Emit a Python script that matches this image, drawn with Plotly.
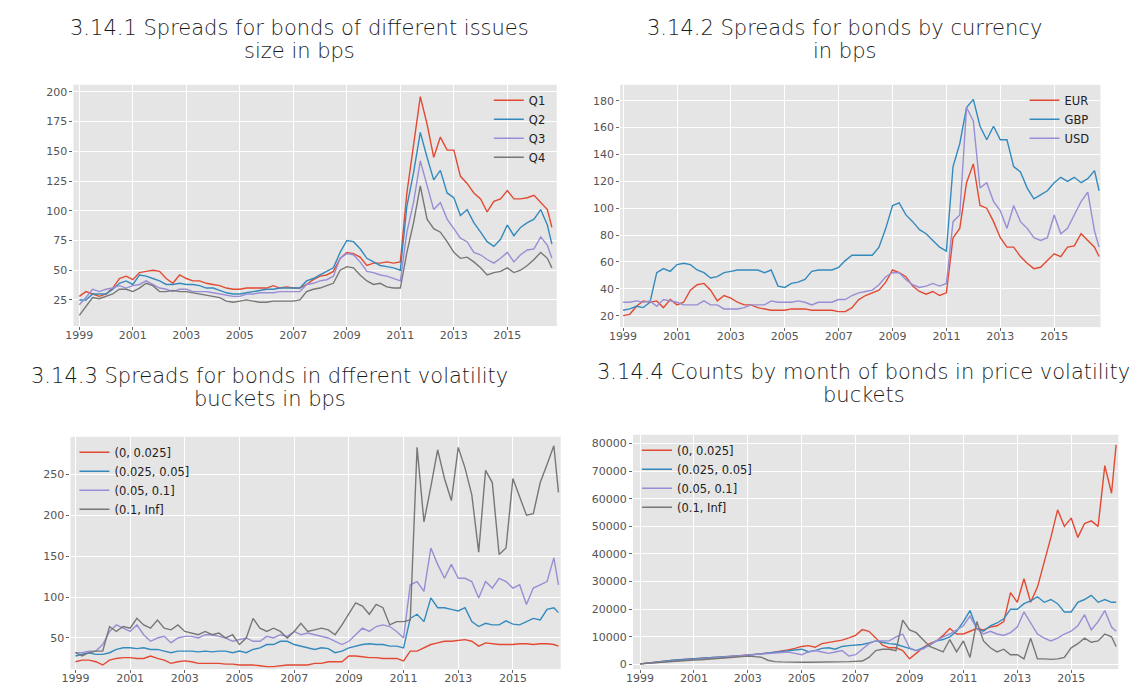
import pandas as pd
import plotly.graph_objects as go

W, H = 1142, 690

# quarterly sampling dates, plus final month
dates = list(pd.date_range("1999-01-01", periods=71, freq="QS").strftime("%Y-%m-%d")) + ["2016-09-01"]

# ---- 3.14.1 issue size quartiles (bps)
q1 = [28, 32, 30, 28, 30, 35, 43, 45, 42, 48, 49, 50, 49, 43, 39, 46, 43, 41, 41, 39,
      38, 37, 35, 34, 34, 35, 35, 35, 35, 37, 35, 36, 35, 35, 38, 42, 45, 46, 49, 60,
      65, 64, 61, 54, 56, 56, 57, 56, 57, 115, 154, 196, 173, 145, 162, 151, 151, 129, 123, 115,
      110, 99, 108, 110, 117, 110, 110, 111, 113, 107, 101, 86]
q2 = [25, 25, 30, 30, 30, 34, 39, 41, 38, 46, 45, 43, 41, 38, 38, 39, 38, 38, 37, 35,
      35, 33, 31, 30, 30, 31, 32, 33, 34, 34, 35, 35, 35, 35, 41, 43, 46, 49, 52, 65,
      75, 74, 68, 60, 57, 54, 53, 52, 50, 104, 132, 166, 145, 126, 134, 115, 111, 96, 101, 90,
      82, 74, 70, 76, 88, 79, 86, 90, 93, 101, 88, 72]
q3 = [21, 27, 34, 32, 34, 35, 37, 35, 37, 38, 41, 38, 35, 34, 32, 34, 34, 32, 32, 32,
      31, 30, 29, 28, 28, 30, 30, 31, 31, 31, 32, 32, 32, 32, 38, 39, 41, 42, 45, 60,
      64, 63, 57, 49, 48, 46, 45, 43, 41, 82, 107, 142, 121, 101, 107, 93, 85, 77, 74, 65,
      63, 59, 56, 60, 65, 57, 63, 67, 68, 78, 71, 60]
q4 = [12, 20, 27, 26, 28, 30, 34, 34, 32, 35, 39, 37, 32, 32, 33, 32, 32, 31, 30, 29,
      28, 27, 24, 23, 24, 25, 24, 23, 23, 24, 24, 24, 24, 25, 32, 34, 35, 37, 39, 50,
      53, 52, 46, 41, 38, 39, 36, 35, 35, 65, 90, 121, 93, 85, 82, 74, 65, 60, 61, 57,
      52, 46, 48, 49, 52, 48, 50, 54, 59, 65, 60, 52]

# ---- 3.14.2 by currency (bps)
eur = [20, 21, 27, 31, 30, 31, 26, 32, 28, 30, 39, 43, 44, 39, 31, 35, 33, 30, 28, 28,
       26, 25, 24, 24, 24, 25, 25, 25, 24, 24, 24, 24, 23, 23, 26, 32, 35, 37, 39, 45,
       54, 52, 49, 42, 38, 36, 38, 35, 37, 78, 85, 119, 133, 102, 100, 90, 78, 71, 71, 64,
       59, 55, 56, 61, 66, 64, 71, 72, 81, 76, 71, 64]
gbp = [24, 25, 27, 26, 30, 52, 55, 53, 58, 59, 58, 54, 52, 48, 49, 52, 53, 54, 54, 54,
       54, 52, 54, 42, 41, 44, 45, 47, 53, 54, 54, 54, 56, 61, 65, 65, 65, 65, 71, 85,
       102, 104, 95, 90, 84, 81, 76, 71, 68, 131, 148, 175, 181, 161, 151, 161, 151, 151, 131, 127,
       115, 107, 110, 113, 119, 123, 120, 123, 119, 122, 128, 113]
usd = [30, 30, 31, 30, 31, 27, 32, 31, 30, 28, 28, 28, 31, 28, 28, 25, 25, 25, 26, 28,
       28, 28, 31, 30, 30, 30, 31, 30, 28, 30, 30, 30, 32, 32, 35, 37, 38, 39, 43, 49,
       52, 52, 47, 43, 41, 42, 44, 42, 44, 90, 95, 175, 165, 115, 119, 105, 98, 85, 102, 90,
       85, 78, 76, 78, 95, 81, 85, 95, 105, 112, 83, 71]

# ---- 3.14.3 by volatility bucket (bps)
v1 = [21, 23, 23, 21, 17, 23, 25, 26, 26, 25, 25, 28, 25, 23, 19, 21, 22, 21, 19, 19,
      19, 19, 18, 18, 17, 17, 17, 16, 15, 15, 16, 17, 17, 17, 17, 19, 19, 21, 21, 21,
      28, 28, 27, 26, 26, 25, 25, 25, 22, 34, 34, 38, 42, 44, 46, 46, 47, 48, 46, 40,
      44, 43, 42, 42, 42, 43, 43, 42, 43, 43, 42, 40]
v2 = [28, 30, 32, 30, 30, 32, 36, 38, 38, 37, 38, 36, 36, 34, 32, 34, 34, 34, 33, 34,
      33, 34, 34, 32, 34, 32, 36, 38, 42, 42, 46, 46, 42, 40, 38, 36, 38, 37, 32, 34,
      38, 40, 42, 43, 42, 42, 40, 40, 38, 74, 79, 70, 99, 87, 87, 85, 83, 87, 70, 64,
      68, 66, 66, 71, 67, 66, 70, 74, 72, 85, 87, 81]
v3 = [32, 32, 34, 34, 42, 58, 66, 62, 58, 66, 54, 46, 50, 52, 44, 50, 52, 52, 50, 54,
      54, 52, 50, 46, 48, 50, 46, 46, 52, 50, 54, 52, 58, 54, 56, 54, 52, 50, 46, 42,
      46, 54, 62, 58, 64, 66, 64, 58, 50, 115, 119, 107, 160, 140, 123, 140, 123, 123, 119, 99,
      119, 111, 123, 119, 111, 115, 91, 111, 115, 119, 148, 115]
v4 = [32, 28, 32, 34, 34, 64, 58, 64, 62, 74, 66, 62, 72, 62, 60, 66, 58, 56, 54, 58,
      54, 56, 50, 54, 42, 50, 74, 62, 58, 62, 58, 50, 58, 68, 58, 60, 62, 60, 54, 66,
      79, 93, 89, 79, 91, 87, 66, 70, 70, 72, 283, 192, 235, 280, 245, 218, 283, 258, 225, 155,
      255, 240, 152, 160, 245, 222, 200, 202, 240, 262, 285, 228]

# ---- 3.14.4 monthly counts by price-volatility bucket
c1 = [200, 500, 800, 1000, 1200, 1500, 1700, 1900, 2000, 2200, 2300, 2500, 2600, 2800, 3000, 3100,
      3200, 3500, 3800, 4100, 4400, 4800, 5200, 5800, 6500, 6800, 6200, 7500, 8000, 8500, 8800, 9600,
      10500, 12600, 12000, 9600, 7000, 6000, 6000, 5000, 2000, 4000, 6000, 7500, 8500, 10500, 13000, 11000,
      11000, 12000, 13000, 12500, 13500, 14000, 15500, 26000, 22500, 31000, 22500, 28000, 37000, 46000, 56000, 50000,
      53000, 46000, 51000, 52000, 50000, 72000, 62000, 79500]
c2 = [200, 500, 800, 1000, 1200, 1500, 1700, 1900, 2000, 2200, 2400, 2500, 2700, 2900, 3000, 3100,
      3300, 3600, 3900, 4200, 4500, 4800, 5100, 5400, 5500, 4600, 5000, 5800, 6000, 5500, 6500, 6800,
      7000, 7200, 7800, 8500, 8000, 7500, 7300, 6500, 5500, 5000, 6000, 7000, 8500, 9000, 10000, 12000,
      15500, 19500, 13000, 12000, 14000, 15000, 16500, 20000, 20000, 22000, 23000, 24500, 22500, 23500, 22000, 19000,
      19000, 22500, 23500, 25000, 22500, 23500, 22500, 22500]
c3 = [200, 400, 700, 900, 1100, 1300, 1500, 1700, 1900, 2100, 2300, 2500, 2700, 2900, 3100, 3300,
      3500, 3700, 3900, 4100, 4300, 4400, 4500, 4000, 3500, 4500, 5000, 4500, 4000, 4500, 5000, 3000,
      3500, 5500, 7500, 8500, 8500, 8500, 10000, 11000, 6000, 5000, 5500, 7000, 8500, 10000, 11000, 12500,
      14000, 17500, 13000, 11000, 12000, 11000, 10500, 11500, 13500, 19000, 15000, 11000, 9500, 8500, 9500, 11000,
      12000, 14000, 18000, 12500, 15500, 19500, 13500, 12000]
c4 = [200, 400, 600, 800, 1000, 1200, 1300, 1500, 1600, 1700, 1800, 2000, 2200, 2400, 2600, 2800,
      3000, 2800, 2600, 1500, 1000, 900, 800, 800, 800, 800, 800, 900, 900, 900, 1000, 1000,
      1100, 1200, 2500, 5000, 5500, 5500, 5000, 16000, 12500, 11500, 9000, 6500, 5500, 4500, 9000, 4500,
      8500, 2500, 15500, 8500, 6000, 4500, 5500, 3500, 3500, 2000, 9500, 2000, 2000, 1800, 2000, 2500,
      6000, 7500, 9500, 8000, 8500, 11000, 10000, 6500]

year_ticks = [1999, 2001, 2003, 2005, 2007, 2009, 2011, 2013, 2015]

titles = [
    ("3.14.1 Spreads for bonds of different issues", "size in bps"),
    ("3.14.2 Spreads for bonds by currency", "in bps"),
    ("3.14.3 Spreads for bonds in dfferent volatility", "buckets in bps"),
    ("3.14.4 Counts by month of bonds in price volatility", "buckets"),
]

RED, BLUE, PURPLE, GRAY = "#E24A33", "#348ABD", "#988ED5", "#777777"

panels = [
    dict(series=[("Q1", q1, RED), ("Q2", q2, BLUE), ("Q3", q3, PURPLE), ("Q4", q4, GRAY)],
         px=(55, 543), py=(77, 319), xr=(1998.78, 2016.85), yr=(3, 206),
         yt=[25, 50, 75, 100, 125, 150, 175, 200], leg="right",
         title_x=283, title_y=(20, 43)),
    dict(series=[("EUR", eur, RED), ("GBP", gbp, BLUE), ("USD", usd, PURPLE)],
         px=(607, 1092), py=(77, 320), xr=(1998.89, 2016.72), yr=(11.5, 191.9),
         yt=[20, 40, 60, 80, 100, 120, 140, 160, 180], leg="right",
         title_x=834, title_y=(20, 43)),
    dict(series=[("(0, 0.025]", v1, RED), ("(0.025, 0.05]", v2, BLUE),
                 ("(0.05, 0.1]", v3, PURPLE), ("(0.1, Inf]", v4, GRAY)],
         px=(52, 547), py=(430, 663), xr=(1998.82, 2016.75), yr=(12, 296),
         yt=[50, 100, 150, 200, 250], leg="left",
         title_x=253, title_y=(369, 392)),
    dict(series=[("(0, 0.025]", c1, RED), ("(0.025, 0.05]", c2, BLUE),
                 ("(0.05, 0.1]", c3, PURPLE), ("(0.1, Inf]", c4, GRAY)],
         px=(620, 1110), py=(428, 663), xr=(1998.74, 2016.75), yr=(-1700, 83186),
         yt=[0, 10000, 20000, 30000, 40000, 50000, 60000, 70000, 80000], leg="left",
         title_x=853, title_y=(365, 388)),
]


def yr2date(y):
    ts = pd.Timestamp(int(y), 1, 1) + pd.Timedelta(days=(y - int(y)) * 365.25)
    return ts.strftime("%Y-%m-%d %H:%M")


fig = go.Figure()
layout = dict(width=W, height=H, margin=dict(l=0, r=0, t=0, b=0),
              paper_bgcolor="white", plot_bgcolor="#E5E5E5", showlegend=True,
              font=dict(family="DejaVu Sans", size=11, color="#555555"))
annotations = []

for i, p in enumerate(panels):
    n = "" if i == 0 else str(i + 1)
    xa, ya = "x" + n, "y" + n
    legname = "legend" + n
    for name, vals, col in p["series"]:
        fig.add_trace(go.Scatter(x=dates, y=vals, mode="lines", name=name,
                                 line=dict(color=col, width=1.4),
                                 xaxis=xa, yaxis=ya, legend=legname))
    x0, x1 = p["px"]
    y0, y1 = p["py"]
    common = dict(showgrid=True, gridcolor="white", gridwidth=1, zeroline=False,
                  showline=False, ticks="outside", ticklen=3, tickcolor="#666666",
                  tickfont=dict(family="DejaVu Sans", size=11, color="#555555"))
    layout["xaxis" + n] = dict(domain=[x0 / W, x1 / W], anchor=ya, type="date",
                               range=[yr2date(p["xr"][0]), yr2date(p["xr"][1])],
                               tickvals=[f"{y}-01-01" for y in year_ticks],
                               ticktext=[str(y) for y in year_ticks],
                               ticklabelstandoff=-4, **common)
    layout["yaxis" + n] = dict(domain=[1 - y1 / H, 1 - y0 / H], anchor=xa,
                               range=list(p["yr"]), tickvals=p["yt"],
                               ticktext=[str(v) for v in p["yt"]], **common)
    if p["leg"] == "right":
        lx, xanchor = (x1 - 6) / W, "right"
    else:
        lx, xanchor = (x0 + 4) / W, "left"
    layout[legname] = dict(x=lx, y=1 - (y0 + 1) / H, xanchor=xanchor, yanchor="top",
                           xref="paper", yref="paper", bgcolor="rgba(0,0,0,0)",
                           font=dict(family="DejaVu Sans", size=11.5, color="#222222"),
                           tracegroupgap=0, itemwidth=30)
    for line_text, ty in zip(titles[i], p["title_y"]):
        annotations.append(dict(text=line_text, x=p["title_x"] / W, y=1 - ty / H,
                                xref="paper", yref="paper", showarrow=False,
                                xanchor="center", yanchor="middle", align="center",
                                font=dict(family="DejaVu Sans", size=21, color="#1a1a1a",
                                          weight=300)))

layout["annotations"] = annotations
fig.update_layout(**layout)
fig.write_html("out.html")
